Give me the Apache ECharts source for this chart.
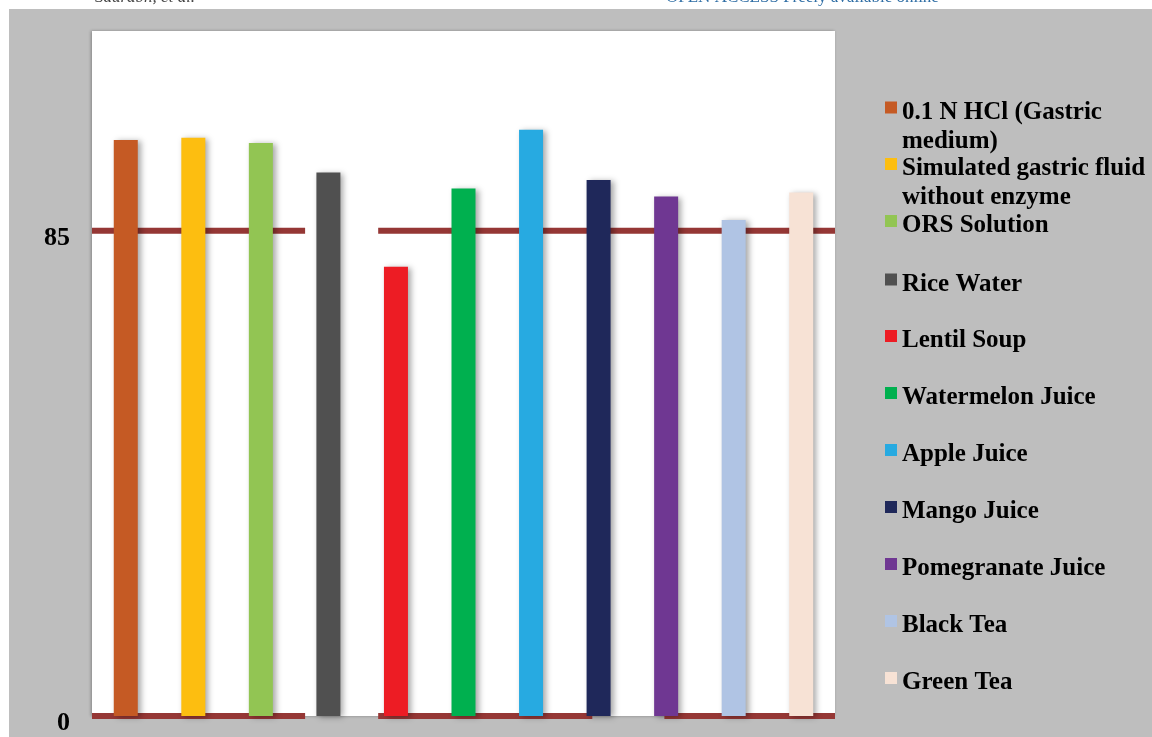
<!DOCTYPE html>
<html>
<head>
<meta charset="utf-8">
<script src="https://cdn.jsdelivr.net/npm/echarts@6/dist/echarts.min.js"></script>
<style>html,body{margin:0;padding:0;background:#fff;}#c{width:1152px;height:737px;}</style>
</head>
<body>
<div id="c"></div>
<script>
// ---- data ----
const categories = [
  "0.1 N HCl (Gastric medium)",
  "Simulated gastric fluid without enzyme",
  "ORS Solution",
  "Rice Water",
  "Lentil Soup",
  "Watermelon Juice",
  "Apple Juice",
  "Mango Juice",
  "Pomegranate Juice",
  "Black Tea",
  "Green Tea"
];
const legendLabels = [
  "0.1 N HCl (Gastric\nmedium)",
  "Simulated gastric fluid\nwithout enzyme",
  "ORS Solution",
  "Rice Water",
  "Lentil Soup",
  "Watermelon Juice",
  "Apple Juice",
  "Mango Juice",
  "Pomegranate Juice",
  "Black Tea",
  "Green Tea"
];
const values = [100.9, 101.3, 100.4, 95.2, 78.7, 92.4, 102.7, 93.9, 91.0, 86.9, 91.7];
const colors = ["#C55A24", "#FDBE10", "#92C553", "#505050", "#ED1C24", "#00B04F", "#27AAE1", "#1F285A", "#6F3792", "#B0C4E4", "#F7E2D5"];
const yTicks = [0, 85];
// reference lines (data space, x in category units on a hidden value axis)
const line85 = [[-0.5, 85], [2.655, 85], '-', [3.737, 85], [10.5, 85]];
const line0 = [[-0.5, 0], [2.655, 0], '-', [3.737, 0], [6.907, 0], '-', [7.974, 0], [10.5, 0]];

const serif = "'Liberation Serif','Times New Roman',serif";

const chart = echarts.init(document.getElementById('c'), null, {renderer: 'canvas'});

const barSeries = categories.map((name, i) => ({
  name: name,
  type: 'bar',
  stack: 'all',
  barWidth: 24,
  z: 3,
  itemStyle: {
    color: colors[i],
    shadowColor: 'rgba(0,0,0,0.35)',
    shadowBlur: 6,
    shadowOffsetX: 3,
    shadowOffsetY: 1
  },
  data: categories.map((c, j) => j === i ? values[i] : '-')
}));

const lineStyleRef = {color: '#953735', width: 6};
const lineSeries = [line85, line0].map(d => ({
  type: 'line',
  xAxisIndex: 1,
  symbol: 'none',
  z: 2,
  silent: true,
  connectNulls: false,
  lineStyle: lineStyleRef,
  data: d
}));

// legend: square icon centres
const iconCenters = [107.5, 164, 221, 279.5, 336, 393, 450, 507, 564, 621, 678];
const LH = 29;
const legends = categories.map((name, i) => {
  const twoLine = legendLabels[i].indexOf('\n') >= 0;
  // icon box: square at top, invisible extent below so text sits lower
  const boxH = twoLine ? 51 : 22;
  return {
    data: [name],
    orient: 'vertical',
    left: 885,
    top: iconCenters[i] - 9.5,
    padding: 0,
    itemWidth: 12,
    itemHeight: boxH,
    icon: 'path://M0,0h12v12h-12z M0,' + boxH + 'L12,' + boxH,
    selectedMode: false,
    formatter: () => legendLabels[i],
    textStyle: {
      fontFamily: serif,
      fontWeight: 'bold',
      fontSize: 25,
      lineHeight: LH,
      color: '#000'
    }
  };
});

const option = {
  backgroundColor: '#ffffff',
  animation: false,
  graphic: [
    {type: 'rect', left: 9, top: 9, shape: {width: 1143, height: 728}, style: {fill: '#BEBEBE'}, z: -10},
    {type: 'text', left: 95, top: -11, style: {text: 'Saurabh, et al.', font: 'italic 17px ' + serif, fill: '#444'}},
    {type: 'text', left: 666, top: -11, style: {text: 'OPEN ACCESS Freely available online', font: '17px ' + serif, fill: '#2E6DA4'}}
  ],
  grid: {
    left: 92, top: 31, width: 743, height: 685,
    show: true, backgroundColor: '#ffffff', borderWidth: 0,
    shadowColor: 'rgba(0,0,0,0.3)', shadowBlur: 3, shadowOffsetX: -1
  },
  legend: legends,
  xAxis: [
    {type: 'category', data: categories, show: false},
    {type: 'value', min: -0.5, max: 10.5, show: false}
  ],
  yAxis: {
    type: 'value', min: 0, max: 120,
    axisLine: {show: false},
    splitLine: {show: false},
    axisTick: {show: true, length: 8, customValues: yTicks, lineStyle: {color: '#888'}},
    axisLabel: {
      customValues: yTicks,
      margin: 22,
      fontFamily: serif, fontWeight: 'bold', fontSize: 26, color: '#000',
      verticalAlign: 'top',
      lineHeight: 14
    }
  },
  series: lineSeries.concat(barSeries)
};
chart.setOption(option);
</script>
</body>
</html>
